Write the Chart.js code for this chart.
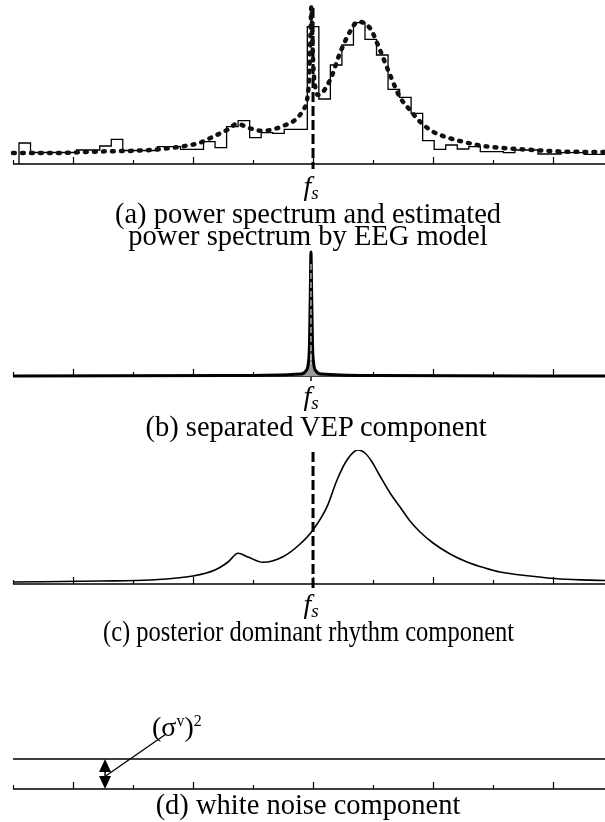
<!DOCTYPE html>
<html>
<head>
<meta charset="utf-8">
<script src="https://cdn.jsdelivr.net/npm/chart.js@4.4.1/dist/chart.umd.min.js"></script>
<style>
  body { margin: 0; background: #fff; width: 605px; height: 822px; position: relative; overflow: hidden;
         font-family: "Liberation Serif", "Times New Roman", serif; color: #000; }
  canvas { position: absolute; left: 0; }
  .cap { position: absolute; left: 0; width: 616px; text-align: center; font-size: 28.5px; line-height: 22px; white-space: nowrap; }
  .narrow { transform: scaleX(0.86); transform-origin: 312px 0; }
  .fs { position: absolute; font-size: 28px; line-height: 28px; font-style: italic; white-space: nowrap; transform: translateX(-50%); }
  .fs sub { font-size: 19px; vertical-align: -4px; }
  .sigma { position: absolute; left: 152px; top: 707px; font-size: 28px; line-height: 28px; white-space: nowrap; }
  .sigma sup { font-size: 16px; vertical-align: 10px; }
</style>
</head>
<body>
<canvas id="chartA" width="605" height="180" style="top:0"></canvas>
<canvas id="chartB" width="605" height="150" style="top:240px"></canvas>
<canvas id="chartC" width="605" height="160" style="top:440px"></canvas>
<canvas id="chartD" width="605" height="100" style="top:700px"></canvas>

<div class="fs" id="fsA" style="top:172px"><i>f</i><sub>s</sub></div>
<div class="fs" id="fsB" style="top:382px"><i>f</i><sub>s</sub></div>
<div class="fs" id="fsC" style="top:590px"><i>f</i><sub>s</sub></div>

<div class="cap" style="top:203px">(a) power spectrum and estimated<br>power spectrum by EEG model</div>
<div class="cap" style="top:416px; left:8px">(b) separated VEP component</div>
<div class="cap narrow" style="top:621px">(c) posterior dominant rhythm component</div>
<div class="cap" style="top:794px">(d) white noise component</div>
<div class="sigma">(σ<sup>v</sup>)<sup>2</sup></div>

<script>
// frequency axis (tick every 5 units, stimulus frequency at 25)
const X_MAX = 49.33;
const FS = 25;
const TICKS = [0, 5, 10, 15, 20, 25, 30, 35, 40, 45];
const MAJOR_TICKS = [5, 15, 25, 35, 45];

// periodogram bins
const BIN_START = 0.5;
const BIN_WIDTH = 0.961;
const PERIODOGRAM = [
    0.21, 0.115, 0.115, 0.115, 0.115, 0.14, 0.14, 0.18, 0.247, 0.135,
    0.135, 0.135, 0.173, 0.173, 0.147, 0.147, 0.223, 0.163, 0.373, 0.433,
    0.263, 0.313, 0.307, 0.347, 0.347, 1.373, 0.65, 0.99, 1.19, 1.413,
    1.247, 1.09, 0.747, 0.667, 0.507, 0.233, 0.147, 0.19, 0.15, 0.173,
    0.123, 0.123, 0.113, 0.14, 0.14, 0.10, 0.10, 0.113, 0.113, 0.097,
    0.097
];

// spectrum estimated by the EEG model
const MODEL_FREQ = [
    0, 3.08, 7.25, 11.42, 13.92, 15.58, 16.67, 17.83, 18.67, 19.75,
    20.58, 21.42, 22.5, 23.67, 24.17, 24.5, 24.67, 24.79, 24.86, 24.93,
    25.04, 25.21, 25.42, 26.42, 27.25, 28.08, 28.75, 29.75, 30.58, 31.42,
    32.25, 33.08, 33.92, 35, 36.42, 37.83, 39.17, 40.58, 43.33, 46.17, 49.33
];
const MODEL_POWER = [
    0.11, 0.11, 0.125, 0.14, 0.173, 0.213, 0.273, 0.34, 0.40, 0.357,
    0.333, 0.34, 0.38, 0.457, 0.54, 0.64, 0.85, 1.30, 1.57, 1.30,
    0.95, 0.75, 0.69, 0.84, 1.11, 1.323, 1.423, 1.357, 1.14, 0.89,
    0.667, 0.54, 0.423, 0.323, 0.257, 0.213, 0.18, 0.163, 0.14, 0.123, 0.12
];

// VEP component
const VEP_FREQ = [0, 18, 24.0, 24.4, 24.6, 24.7, 24.77, 24.83, 24.89, 24.96, 25.06, 25.25, 25.67, 30, 49.33];
const VEP_POWER = [0, 0.005, 0.02, 0.05, 0.12, 0.3, 0.8, 1.24, 0.8, 0.3, 0.12, 0.05, 0.02, 0.005, 0];

// posterior dominant rhythm component
const RHYTHM_FREQ = [
    0, 7.25, 11.42, 15, 16.83, 17.92, 18.75, 19.58, 20.83, 22.5,
    23.83, 25, 26.17, 27, 27.83, 28.75, 29.33, 29.92, 30.58, 31.42,
    32.25, 33.08, 33.92, 35, 36.42, 37.83, 39.33, 40.58, 43.08, 45.58, 49.33
];
const RHYTHM_POWER = [
    0.02, 0.03, 0.04, 0.08, 0.14, 0.22, 0.307, 0.27, 0.217, 0.273,
    0.39, 0.54, 0.773, 1.04, 1.24, 1.34, 1.31, 1.22, 1.08, 0.91,
    0.77, 0.63, 0.52, 0.41, 0.30, 0.22, 0.16, 0.12, 0.08, 0.05, 0.035
];

// white noise component
const NOISE_LEVEL = 0.10;
const NOISE_ARROW_FREQ = 7.67;

function points(xs, ys) {
    return xs.map((x, i) => ({ x: x, y: ys[i] }));
}

// one point per bin edge, held flat across the bin
function periodogramSteps() {
    const pts = [{ x: BIN_START, y: 0 }];
    PERIODOGRAM.forEach((p, k) => pts.push({ x: BIN_START + k * BIN_WIDTH, y: p }));
    pts.push({ x: BIN_START + PERIODOGRAM.length * BIN_WIDTH, y: PERIODOGRAM[PERIODOGRAM.length - 1] });
    return pts;
}

// axis line, inward ticks and the dashed f_s marker
const freqAxis = {
    id: 'freqAxis',
    beforeDatasetsDraw(chart, args, opts) {
        const { ctx, chartArea, scales: { x, y } } = chart;
        const y0 = y.getPixelForValue(0);
        ctx.save();
        ctx.strokeStyle = '#000';
        ctx.lineWidth = opts.axisWidth || 1.3;
        ctx.beginPath();
        ctx.moveTo(chartArea.left, y0);
        ctx.lineTo(chartArea.right, y0);
        ctx.stroke();

        ctx.lineWidth = 1.2;
        TICKS.forEach(t => {
            const px = Math.round(x.getPixelForValue(t)) + 0.5;
            const len = MAJOR_TICKS.includes(t) ? 7 : 4;
            ctx.beginPath();
            ctx.moveTo(px, y0);
            ctx.lineTo(px, y0 - len);
            ctx.stroke();
        });

        if (opts.fsTop !== undefined) {
            const fx = x.getPixelForValue(FS);
            ctx.setLineDash([10, 4]);
            ctx.lineWidth = 3;
            ctx.beginPath();
            ctx.moveTo(fx, y.getPixelForValue(opts.fsTop));
            ctx.lineTo(fx, y0 + 5);
            ctx.stroke();
        }
        ctx.restore();
    }
};

function baseOptions(ymax, padding, axisOpts) {
    return {
        responsive: false,
        animation: false,
        events: [],
        layout: { padding: padding },
        elements: { point: { radius: 0 } },
        plugins: {
            legend: { display: false },
            tooltip: { enabled: false },
            freqAxis: axisOpts || {}
        },
        scales: {
            x: { type: 'linear', min: 0, max: X_MAX, display: false },
            y: { type: 'linear', min: 0, max: ymax, display: false }
        }
    };
}

// (a) periodogram and model spectrum
new Chart(document.getElementById('chartA'), {
    type: 'line',
    data: {
        datasets: [{
            data: points(MODEL_FREQ, MODEL_POWER),
            borderColor: '#111',
            borderWidth: 4.5,
            borderDash: [1.8, 7.2],
            borderCapStyle: 'round',
            cubicInterpolationMode: 'monotone',
            clip: false,
            order: 0
        }, {
            data: periodogramSteps(),
            borderColor: '#000',
            borderWidth: 1.3,
            stepped: 'before',
            order: 1
        }]
    },
    options: baseOptions(1.6, { left: 13, right: 0, top: 4, bottom: 16 }, { fsTop: 1.56 }),
    plugins: [freqAxis]
});

// (b) VEP component
const vepInner = {
    id: 'vepInner',
    afterDatasetsDraw(chart) {
        const { ctx, scales: { x, y } } = chart;
        const fx = x.getPixelForValue(VEP_FREQ[7]);
        const y0 = y.getPixelForValue(0);
        ctx.save();
        ctx.strokeStyle = '#fff';
        ctx.lineWidth = 1;
        ctx.setLineDash([6, 3]);
        ctx.beginPath();
        ctx.moveTo(fx, y.getPixelForValue(1.12));
        ctx.lineTo(fx, y.getPixelForValue(0.12));
        ctx.stroke();
        ctx.setLineDash([]);
        ctx.strokeStyle = '#444';
        ctx.lineWidth = 2;
        ctx.beginPath();
        ctx.moveTo(fx, y0);
        ctx.lineTo(fx, y0 + 5);
        ctx.stroke();
        ctx.restore();
    }
};

new Chart(document.getElementById('chartB'), {
    type: 'line',
    data: {
        datasets: [{
            data: points(VEP_FREQ, VEP_POWER),
            borderColor: '#000',
            borderWidth: 3,
            backgroundColor: '#9a9a9a',
            fill: 'origin',
            cubicInterpolationMode: 'monotone',
            clip: false
        }]
    },
    options: baseOptions(1.24, { left: 13, right: 0, top: 12, bottom: 14 }, { axisWidth: 1.6 }),
    plugins: [freqAxis, vepInner]
});

// (c) posterior dominant rhythm
new Chart(document.getElementById('chartC'), {
    type: 'line',
    data: {
        datasets: [{
            data: points(RHYTHM_FREQ, RHYTHM_POWER),
            borderColor: '#000',
            borderWidth: 1.6,
            cubicInterpolationMode: 'monotone'
        }]
    },
    options: baseOptions(1.34, { left: 13, right: 0, top: 10, bottom: 16 }, { fsTop: 1.32 }),
    plugins: [freqAxis]
});

// (d) white noise level with the (sigma^v)^2 marker
const noiseMarker = {
    id: 'noiseMarker',
    afterDatasetsDraw(chart) {
        const { ctx, scales: { x, y } } = chart;
        const ax = x.getPixelForValue(NOISE_ARROW_FREQ);
        const top = y.getPixelForValue(NOISE_LEVEL);
        const bot = y.getPixelForValue(0);
        ctx.save();
        ctx.fillStyle = '#000';
        ctx.strokeStyle = '#000';
        ctx.lineWidth = 1.5;
        ctx.beginPath();
        ctx.moveTo(ax, top + 6);
        ctx.lineTo(ax, bot - 6);
        ctx.stroke();
        ctx.beginPath();
        ctx.moveTo(ax, top);
        ctx.lineTo(ax - 6, top + 13);
        ctx.lineTo(ax + 6, top + 13);
        ctx.closePath();
        ctx.fill();
        ctx.beginPath();
        ctx.moveTo(ax, bot);
        ctx.lineTo(ax - 6, bot - 13);
        ctx.lineTo(ax + 6, bot - 13);
        ctx.closePath();
        ctx.fill();
        // leader line to the label
        ctx.lineWidth = 1.3;
        ctx.beginPath();
        ctx.moveTo(x.getPixelForValue(12.67), y.getPixelForValue(0.181));
        ctx.lineTo(x.getPixelForValue(7.75), y.getPixelForValue(0.044));
        ctx.stroke();
        ctx.restore();
    }
};

new Chart(document.getElementById('chartD'), {
    type: 'line',
    data: {
        datasets: [{
            data: points([0, X_MAX], [NOISE_LEVEL, NOISE_LEVEL]),
            borderColor: '#000',
            borderWidth: 1.5
        }]
    },
    options: baseOptions(0.13, { left: 13, right: 0, top: 50, bottom: 11 }),
    plugins: [freqAxis, noiseMarker]
});

// f_s labels under each marker
['fsA', 'fsB', 'fsC'].forEach(id => {
    const chart = Chart.getChart('chart' + id.slice(2));
    document.getElementById(id).style.left = (chart.scales.x.getPixelForValue(FS) - 2) + 'px';
});
</script>
</body>
</html>
